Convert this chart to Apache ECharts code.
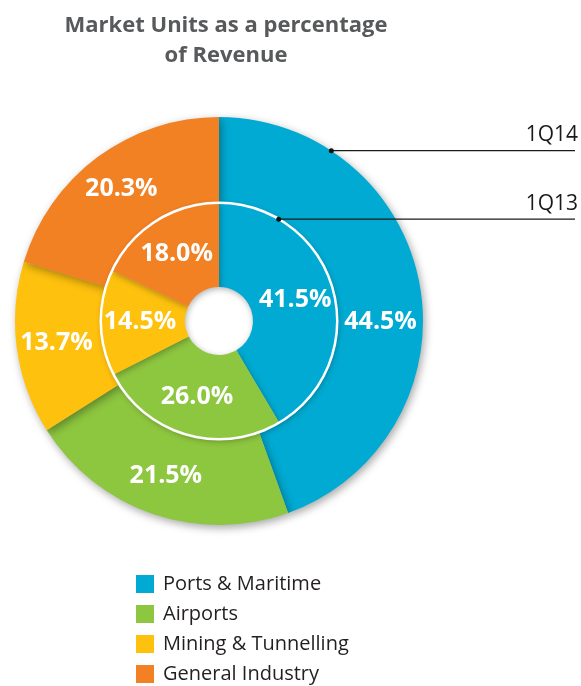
<!DOCTYPE html>
<html>
<head>
<meta charset="utf-8">
<script src="https://cdn.jsdelivr.net/npm/echarts@6/dist/echarts.min.js"></script>
<style>
  html, body { margin: 0; padding: 0; background: #fff; }
  #chart { width: 581px; height: 686px; }
</style>
</head>
<body>
<div id="chart"></div>
<script>
const categories = ['Ports & Maritime', 'Airports', 'Mining & Tunnelling', 'General Industry'];
const values1Q14 = [44.5, 21.5, 13.7, 20.3];
const values1Q13 = [41.5, 26.0, 14.5, 18.0];
const ringNames = ['1Q14', '1Q13'];
const colors = ['#00aad2', '#8dc63f', '#fec10e', '#f28124'];

const CX = 219, CY = 321;
const R_HOLE = 34, R_MID = 118, R_OUT = 204;

const chart = echarts.init(document.getElementById('chart'));

const labelStyle = {
  show: true,
  position: 'inside',
  color: '#fff',
  fontWeight: 'bold',
  fontSize: 25,
  fontFamily: '"Open Sans", sans-serif',
  formatter: p => p.value.toFixed(1) + '%'
};

const toData = vals => vals.map((v, i) => ({ name: categories[i], value: v }));

// point on a ring at an angle measured clockwise from 12 o'clock
const onRing = (r, deg) => {
  const a = deg * Math.PI / 180;
  return [CX + r * Math.sin(a), CY - r * Math.cos(a)];
};

const callout = (name, r, deg) => {
  const [x, y] = onRing(r, deg);
  return [
    { type: 'line', shape: { x1: x, y1: y, x2: 575, y2: y }, style: { stroke: '#1a1a1a', lineWidth: 1.2 }, z: 20 },
    { type: 'circle', shape: { cx: x, cy: y, r: 2.5 }, style: { fill: '#111' }, z: 21 },
    { type: 'text', x: 578, y: y - 5, style: { text: name, align: 'right', verticalAlign: 'bottom', fontSize: 21, fontFamily: '"Open Sans", sans-serif', fill: '#1a1a1a' }, z: 20 }
  ];
};

const outerData = toData(values1Q14);
outerData[0].label = { offset: [0, 29] };

chart.setOption({
  color: colors,
  title: {
    text: 'Market Units as a percentage\nof Revenue',
    left: 221,
    top: 6,
    textAlign: 'center',
    textStyle: { color: '#58595b', fontSize: 22, fontWeight: 'bold', lineHeight: 30, fontFamily: '"Open Sans", sans-serif' }
  },
  legend: {
    data: categories,
    orient: 'vertical',
    left: 136,
    top: 574,
    height: 140,
    padding: 0,
    itemWidth: 18,
    itemHeight: 18,
    itemGap: 10,
    icon: 'rect',
    selectedMode: false,
    textStyle: { color: '#231f20', fontSize: 20, lineHeight: 18, fontFamily: '"Open Sans", sans-serif', padding: [0, 0, 0, 4] }
  },
  series: [
    {
      name: ringNames[0],
      type: 'pie',
      center: [CX, CY],
      radius: [R_MID, R_OUT],
      startAngle: 90,
      clockwise: true,
      silent: true,
      itemStyle: { shadowColor: 'rgba(0,0,0,0.35)', shadowBlur: 8, shadowOffsetX: 2, shadowOffsetY: 3 },
      label: labelStyle,
      labelLine: { show: false },
      data: outerData
    },
    {
      name: ringNames[1],
      type: 'pie',
      center: [CX, CY],
      radius: [R_HOLE, R_MID],
      startAngle: 90,
      clockwise: true,
      silent: true,
      itemStyle: { shadowColor: 'rgba(0,0,0,0.3)', shadowBlur: 6, shadowOffsetX: 1, shadowOffsetY: 2 },
      label: labelStyle,
      labelLine: { show: false },
      data: toData(values1Q13)
    },
    {
      name: 'divider',
      type: 'pie',
      center: [CX, CY],
      radius: [R_MID - 1, R_MID + 1.5],
      silent: true,
      z: 5,
      label: { show: false },
      labelLine: { show: false },
      itemStyle: { color: '#fff' },
      data: [{ name: 'divider', value: 1 }]
    }
  ],
  graphic: [
    ...callout(ringNames[0], R_OUT, 33.4),
    ...callout(ringNames[1], R_MID, 30.4)
  ]
});
</script>
</body>
</html>
